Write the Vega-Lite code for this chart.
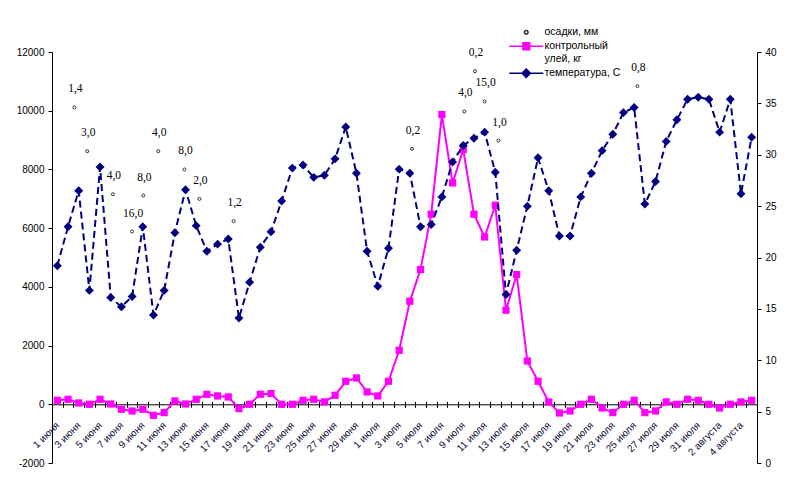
{
  "$schema": "https://vega.github.io/schema/vega-lite/v6.json",
  "width": 705,
  "height": 411,
  "autosize": {"type": "none"},
  "padding": {"left": 52, "top": 52, "right": 45, "bottom": 33},
  "background": "white",
  "datasets": {
    "days": [
      {"day": 0, "date": "1 июня", "kg": 136, "temp": 19.2},
      {"day": 1, "date": "2 июня", "kg": 170, "temp": 23.0},
      {"day": 2, "date": "3 июня", "kg": 45, "temp": 26.5},
      {"day": 3, "date": "4 июня", "kg": 0, "temp": 16.8},
      {"day": 4, "date": "5 июня", "kg": 170, "temp": 28.8},
      {"day": 5, "date": "6 июня", "kg": 10, "temp": 16.1},
      {"day": 6, "date": "7 июня", "kg": -170, "temp": 15.2},
      {"day": 7, "date": "8 июня", "kg": -227, "temp": 16.2},
      {"day": 8, "date": "9 июня", "kg": -170, "temp": 23.0},
      {"day": 9, "date": "10 июня", "kg": -375, "temp": 14.4},
      {"day": 10, "date": "11 июня", "kg": -284, "temp": 16.8},
      {"day": 11, "date": "12 июня", "kg": 114, "temp": 22.4},
      {"day": 12, "date": "13 июня", "kg": 10, "temp": 26.6},
      {"day": 13, "date": "14 июня", "kg": 170, "temp": 23.1},
      {"day": 14, "date": "15 июня", "kg": 340, "temp": 20.6},
      {"day": 15, "date": "16 июня", "kg": 284, "temp": 21.3},
      {"day": 16, "date": "17 июня", "kg": 250, "temp": 21.8},
      {"day": 17, "date": "18 июня", "kg": -148, "temp": 14.1},
      {"day": 18, "date": "19 июня", "kg": 0, "temp": 17.6},
      {"day": 19, "date": "20 июня", "kg": 340, "temp": 21.0},
      {"day": 20, "date": "21 июня", "kg": 363, "temp": 22.5},
      {"day": 21, "date": "22 июня", "kg": 0, "temp": 25.5},
      {"day": 22, "date": "23 июня", "kg": 0, "temp": 28.7},
      {"day": 23, "date": "24 июня", "kg": 136, "temp": 29.0},
      {"day": 24, "date": "25 июня", "kg": 170, "temp": 27.8},
      {"day": 25, "date": "26 июня", "kg": 80, "temp": 28.0},
      {"day": 26, "date": "27 июня", "kg": 307, "temp": 29.6},
      {"day": 27, "date": "28 июня", "kg": 784, "temp": 32.7},
      {"day": 28, "date": "29 июня", "kg": 897, "temp": 28.2},
      {"day": 29, "date": "30 июня", "kg": 420, "temp": 20.6},
      {"day": 30, "date": "1 июля", "kg": 284, "temp": 17.2},
      {"day": 31, "date": "2 июля", "kg": 784, "temp": 20.9},
      {"day": 32, "date": "3 июля", "kg": 1840, "temp": 28.6},
      {"day": 33, "date": "4 июля", "kg": 3510, "temp": 28.2},
      {"day": 34, "date": "5 июля", "kg": 4590, "temp": 23.0},
      {"day": 35, "date": "6 июля", "kg": 6474, "temp": 23.2},
      {"day": 36, "date": "7 июля", "kg": 9870, "temp": 25.9},
      {"day": 37, "date": "8 июля", "kg": 7540, "temp": 29.3},
      {"day": 38, "date": "9 июля", "kg": 8677, "temp": 30.9},
      {"day": 39, "date": "10 июля", "kg": 6474, "temp": 31.6},
      {"day": 40, "date": "11 июля", "kg": 5700, "temp": 32.2},
      {"day": 41, "date": "12 июля", "kg": 6780, "temp": 28.3},
      {"day": 42, "date": "13 июля", "kg": 3203, "temp": 16.4},
      {"day": 43, "date": "14 июля", "kg": 4418, "temp": 20.7},
      {"day": 44, "date": "15 июля", "kg": 1475, "temp": 25.0},
      {"day": 45, "date": "16 июля", "kg": 784, "temp": 29.7},
      {"day": 46, "date": "17 июля", "kg": 80, "temp": 26.5},
      {"day": 47, "date": "18 июля", "kg": -296, "temp": 22.1},
      {"day": 48, "date": "19 июля", "kg": -227, "temp": 22.1},
      {"day": 49, "date": "20 июля", "kg": 0, "temp": 25.9},
      {"day": 50, "date": "21 июля", "kg": 170, "temp": 28.2},
      {"day": 51, "date": "22 июля", "kg": -125, "temp": 30.4},
      {"day": 52, "date": "23 июля", "kg": -284, "temp": 32.0},
      {"day": 53, "date": "24 июля", "kg": 0, "temp": 34.1},
      {"day": 54, "date": "25 июля", "kg": 136, "temp": 34.6},
      {"day": 55, "date": "26 июля", "kg": -284, "temp": 25.2},
      {"day": 56, "date": "27 июля", "kg": -227, "temp": 27.4},
      {"day": 57, "date": "28 июля", "kg": 80, "temp": 31.3},
      {"day": 58, "date": "29 июля", "kg": 0, "temp": 33.4},
      {"day": 59, "date": "30 июля", "kg": 170, "temp": 35.4},
      {"day": 60, "date": "31 июля", "kg": 136, "temp": 35.6},
      {"day": 61, "date": "1 августа", "kg": 0, "temp": 35.4},
      {"day": 62, "date": "2 августа", "kg": -125, "temp": 32.2},
      {"day": 63, "date": "3 августа", "kg": 0, "temp": 35.4},
      {"day": 64, "date": "4 августа", "kg": 80, "temp": 26.2},
      {"day": 65, "date": "5 августа", "kg": 136, "temp": 31.7}
    ],
    "rain": [
      {"day": 1.6, "y": 10110, "label": "1,4"},
      {"day": 2.8, "y": 8620, "label": "3,0"},
      {"day": 5.2, "y": 7155, "label": "4,0"},
      {"day": 7.0, "y": 5885, "label": "16,0"},
      {"day": 8.05, "y": 7110, "label": "8,0"},
      {"day": 9.45, "y": 8620, "label": "4,0"},
      {"day": 11.9, "y": 8000, "label": "8,0"},
      {"day": 13.3, "y": 6995, "label": "2,0"},
      {"day": 16.5, "y": 6235, "label": "1,2"},
      {"day": 33.2, "y": 8700, "label": "0,2"},
      {"day": 38.1, "y": 9975, "label": "4,0"},
      {"day": 39.1, "y": 11345, "label": "0,2"},
      {"day": 40.0, "y": 10315, "label": "15,0"},
      {"day": 41.3, "y": 8985, "label": "1,0"},
      {"day": 54.3, "y": 10835, "label": "0,8"}
    ],
    "series": [
      {"series": "осадки, мм"},
      {"series": "контрольный улей, кг"},
      {"series": "температура, С"}
    ]
  },
  "layer": [
    {
      "data": {"name": "days"},
      "mark": {"type": "line", "color": "#FF00FF", "strokeWidth": 2},
      "encoding": {
        "x": {
          "field": "day", "type": "quantitative",
          "scale": {"domain": [-0.5, 65.5], "nice": false, "zero": false},
          "axis": {
            "orient": "bottom", "offset": -58.7, "title": null, "labels": false, "grid": false,
            "tickSize": 3,
            "values": [-0.5, 0.5, 1.5, 2.5, 3.5, 4.5, 5.5, 6.5, 7.5, 8.5, 9.5, 10.5, 11.5, 12.5, 13.5, 14.5, 15.5, 16.5, 17.5, 18.5, 19.5, 20.5, 21.5, 22.5, 23.5, 24.5, 25.5, 26.5, 27.5, 28.5, 29.5, 30.5, 31.5, 32.5, 33.5, 34.5, 35.5, 36.5, 37.5, 38.5, 39.5, 40.5, 41.5, 42.5, 43.5, 44.5, 45.5, 46.5, 47.5, 48.5, 49.5, 50.5, 51.5, 52.5, 53.5, 54.5, 55.5, 56.5, 57.5, 58.5, 59.5, 60.5, 61.5, 62.5, 63.5, 64.5, 65.5]
          }
        },
        "y": {
          "field": "kg", "type": "quantitative",
          "scale": {"domain": [-2000, 12000], "nice": false},
          "axis": {
            "orient": "left", "title": null, "grid": false,
            "values": [-2000, 0, 2000, 4000, 6000, 8000, 10000, 12000],
            "labelExpr": "'' + datum.value"
          }
        }
      }
    },
    {
      "data": {"name": "days"},
      "mark": {"type": "point", "shape": "square", "filled": true, "size": 52, "color": "#FF00FF", "opacity": 1},
      "encoding": {
        "x": {
          "field": "day", "type": "quantitative",
          "scale": {"domain": [-0.5, 65.5], "nice": false, "zero": false},
          "axis": {
            "orient": "bottom", "offset": -58.7, "title": null, "grid": false,
            "domain": false, "ticks": false, "tickSize": 0,
            "labelAngle": -45, "labelAlign": "right", "labelBaseline": "middle", "labelPadding": 19,
            "labelOverlap": false, "labelFlush": false, "labelBound": false, "labelColor": "#101038",
            "values": [0, 2, 4, 6, 8, 10, 12, 14, 16, 18, 20, 22, 24, 26, 28, 30, 32, 34, 36, 38, 40, 42, 44, 46, 48, 50, 52, 54, 56, 58, 60, 62, 64],
            "labelExpr": "datum.value < 30 ? (datum.value + 1) + ' июня' : datum.value < 61 ? (datum.value - 29) + ' июля' : (datum.value - 60) + ' августа'"
          }
        },
        "y": {
          "field": "kg", "type": "quantitative",
          "scale": {"domain": [-2000, 12000], "nice": false},
          "axis": null
        }
      }
    },
    {
      "data": {"name": "days"},
      "mark": {"type": "line", "color": "#000080", "strokeWidth": 2, "strokeDash": [7, 4]},
      "encoding": {
        "x": {
          "field": "day", "type": "quantitative",
          "scale": {"domain": [-0.5, 65.5], "nice": false, "zero": false},
          "axis": {
            "orient": "bottom", "offset": -58.7, "title": null, "labels": false, "grid": false,
            "domain": false, "tickSize": -3,
            "values": [-0.5, 0.5, 1.5, 2.5, 3.5, 4.5, 5.5, 6.5, 7.5, 8.5, 9.5, 10.5, 11.5, 12.5, 13.5, 14.5, 15.5, 16.5, 17.5, 18.5, 19.5, 20.5, 21.5, 22.5, 23.5, 24.5, 25.5, 26.5, 27.5, 28.5, 29.5, 30.5, 31.5, 32.5, 33.5, 34.5, 35.5, 36.5, 37.5, 38.5, 39.5, 40.5, 41.5, 42.5, 43.5, 44.5, 45.5, 46.5, 47.5, 48.5, 49.5, 50.5, 51.5, 52.5, 53.5, 54.5, 55.5, 56.5, 57.5, 58.5, 59.5, 60.5, 61.5, 62.5, 63.5, 64.5, 65.5]
          }
        },
        "y": {
          "field": "temp", "type": "quantitative",
          "scale": {"domain": [0, 40], "nice": false},
          "axis": {
            "orient": "right", "title": null, "grid": false,
            "values": [0, 5, 10, 15, 20, 25, 30, 35, 40]
          }
        }
      }
    },
    {
      "data": {"name": "days"},
      "mark": {"type": "point", "shape": "diamond", "filled": true, "size": 80, "color": "#000080", "opacity": 1},
      "encoding": {
        "x": {"field": "day", "type": "quantitative", "scale": {"domain": [-0.5, 65.5], "nice": false, "zero": false}, "axis": null},
        "y": {"field": "temp", "type": "quantitative", "scale": {"domain": [0, 40], "nice": false}, "axis": null}
      }
    },
    {
      "data": {"name": "rain"},
      "mark": {"type": "point", "shape": "circle", "filled": false, "size": 9, "stroke": "#333333", "strokeWidth": 1, "opacity": 1},
      "encoding": {
        "x": {"field": "day", "type": "quantitative", "scale": {"domain": [-0.5, 65.5], "nice": false, "zero": false}, "axis": null},
        "y": {"field": "y", "type": "quantitative", "scale": {"domain": [-2000, 12000], "nice": false}, "axis": null}
      }
    },
    {
      "data": {"name": "rain"},
      "mark": {"type": "text", "font": "Liberation Serif", "fontSize": 11.5, "color": "black", "dy": -18, "dx": 1, "baseline": "middle"},
      "encoding": {
        "x": {"field": "day", "type": "quantitative", "scale": {"domain": [-0.5, 65.5], "nice": false, "zero": false}, "axis": null},
        "y": {"field": "y", "type": "quantitative", "scale": {"domain": [-2000, 12000], "nice": false}, "axis": null},
        "text": {"field": "label"}
      }
    },
    {
      "data": {"name": "series"},
      "mark": {"type": "point", "strokeWidth": 1.5, "opacity": 0},
      "encoding": {
        "shape": {
          "field": "series", "type": "nominal",
          "scale": {
            "domain": ["осадки, мм", "контрольный улей, кг", "температура, С"],
            "range": [
              "M-0.45,0A0.45,0.45,0,1,0,0.45,0A0.45,0.45,0,1,0,-0.45,0Z",
              "M-4.25,0H4.25M-0.85,-0.85H0.85V0.85H-0.85Z",
              "M-4.25,0H4.25M0,-1.05L1.05,0L0,1.05L-1.05,0Z"
            ]
          },
          "legend": {"title": null, "labelExpr": "datum.label == 'контрольный улей, кг' ? ['контрольный', 'улей, кг'] : datum.label"}
        },
        "fill": {
          "field": "series", "type": "nominal",
          "scale": {"domain": ["осадки, мм", "контрольный улей, кг", "температура, С"], "range": ["#ffffff", "#FF00FF", "#000080"]},
          "legend": {"title": null, "labelExpr": "datum.label == 'контрольный улей, кг' ? ['контрольный', 'улей, кг'] : datum.label"}
        },
        "stroke": {
          "field": "series", "type": "nominal",
          "scale": {"domain": ["осадки, мм", "контрольный улей, кг", "температура, С"], "range": ["#333333", "#FF00FF", "#000080"]},
          "legend": {"title": null, "labelExpr": "datum.label == 'контрольный улей, кг' ? ['контрольный', 'улей, кг'] : datum.label"}
        }
      }
    }
  ],
  "resolve": {
    "scale": {"y": "independent"},
    "axis": {"x": "independent", "y": "independent"}
  },
  "config": {
    "view": {"stroke": null},
    "axis": {
      "labelFont": "Liberation Sans",
      "labelFontSize": 10,
      "labelColor": "black",
      "domainColor": "black",
      "tickColor": "black",
      "tickSize": 4,
      "labelPadding": 4,
      "grid": false
    },
    "legend": {
      "orient": "none",
      "legendX": 469,
      "legendY": -25,
      "padding": 0,
      "labelFont": "Liberation Sans",
      "labelFontSize": 10.5,
      "labelColor": "black",
      "labelOffset": 13,
      "labelLimit": 300,
      "symbolSize": 64,
      "symbolOpacity": 1,
      "symbolStrokeWidth": 1.5,
      "rowPadding": 1
    }
  }
}
